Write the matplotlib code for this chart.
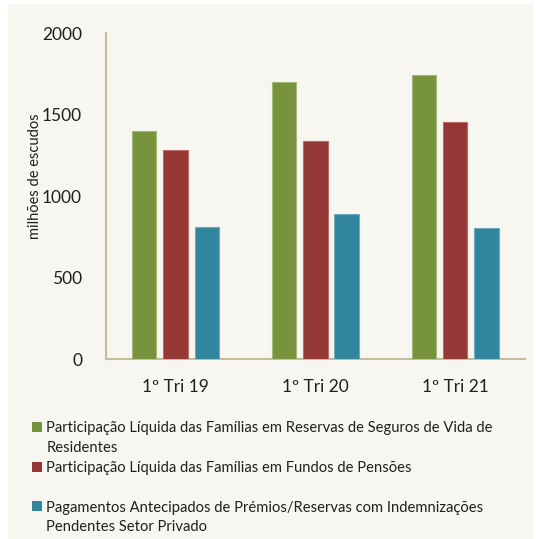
import numpy as np
import matplotlib.pyplot as plt
from matplotlib.patches import Rectangle, Patch

periods = ['1º Tri 19', '1º Tri 20', '1º Tri 21']
seguros_vida = [1402, 1699, 1744]
fundos_pensoes = [1284, 1337, 1454]
pagamentos_antecipados = [812, 889, 804]
series_values = [seguros_vida, fundos_pensoes, pagamentos_antecipados]
series_labels = [
    ['Participação Líquida das Famílias em Reservas de Seguros de Vida de', 'Residentes'],
    ['Participação Líquida das Famílias em Fundos de Pensões', ' '],
    ['Pagamentos Antecipados de Prémios/Reservas com Indemnizações', 'Pendentes Setor Privado'],
]
yticks = [0, 500, 1000, 1500, 2000]

colors = ['#77933C', '#953735', '#31859C']
edge_colors = ['#A4B97A', '#B86D6B', '#6EADBF']
text_color = '#1f1f1f'
spine_color = '#C6BE98'

plt.rcParams['font.family'] = ['Lato', 'DejaVu Sans']

W, H = 536, 539
fig = plt.figure(figsize=(W / 100, H / 100), dpi=100)
fig.patch.set_facecolor('white')
# cream panel behind everything
fig.patches.append(Rectangle((8 / W, 0), (533 - 8) / W, (H - 4) / H,
                             transform=fig.transFigure, facecolor='#F7F6F1',
                             edgecolor='none', zorder=-10))

ax = fig.add_axes([105.7 / W, 1 - 359.3 / H, (525 - 105.7) / W, (359.3 - 33) / H])
ax.set_facecolor('none')

x = np.arange(len(periods))
width = 0.174
step = 0.224
bars = []
for i, vals in enumerate(series_values):
    b = ax.bar(x + (i - 1) * step, vals, width, color=colors[i],
               edgecolor=edge_colors[i], linewidth=0.8, zorder=3)
    bars.append(b)

ax.set_xlim(-0.5, len(periods) - 0.5)
ax.set_ylim(0, 2000)
ax.set_yticks(yticks)
ax.set_yticklabels([str(v) for v in yticks])
ax.set_xticks(x)
ax.set_xticklabels(periods)
ax.tick_params(axis='y', length=0, pad=17, labelsize=12.5, labelcolor=text_color)
ax.tick_params(axis='x', length=0, pad=14, labelsize=12.5, labelcolor=text_color)
for s in ['top', 'right']:
    ax.spines[s].set_visible(False)
for s in ['left', 'bottom']:
    ax.spines[s].set_color(spine_color)
    ax.spines[s].set_linewidth(1.5)

fig.text(35 / W, 1 - 176 / H, 'milhões de escudos', rotation=90,
         ha='center', va='center', fontsize=10.5, color=text_color)

# legend: one row per text line, blank handles for wrapped lines
handles, labels = [], []
for i, lines in enumerate(series_labels):
    handles.append(Patch(facecolor=colors[i], edgecolor='none'))
    labels.append(lines[0])
    handles.append(Patch(facecolor='none', edgecolor='none'))
    labels.append(lines[1])

fig.legend(handles, labels, loc='upper left', bbox_to_anchor=(32 / W, 1 - 421 / H),
           frameon=False, borderpad=0, borderaxespad=0, handlelength=0.68,
           handleheight=0.68, handletextpad=0.3, labelspacing=0.4,
           fontsize=10.6, labelcolor=text_color)

fig.savefig('out.png', dpi=100, facecolor=fig.get_facecolor())
